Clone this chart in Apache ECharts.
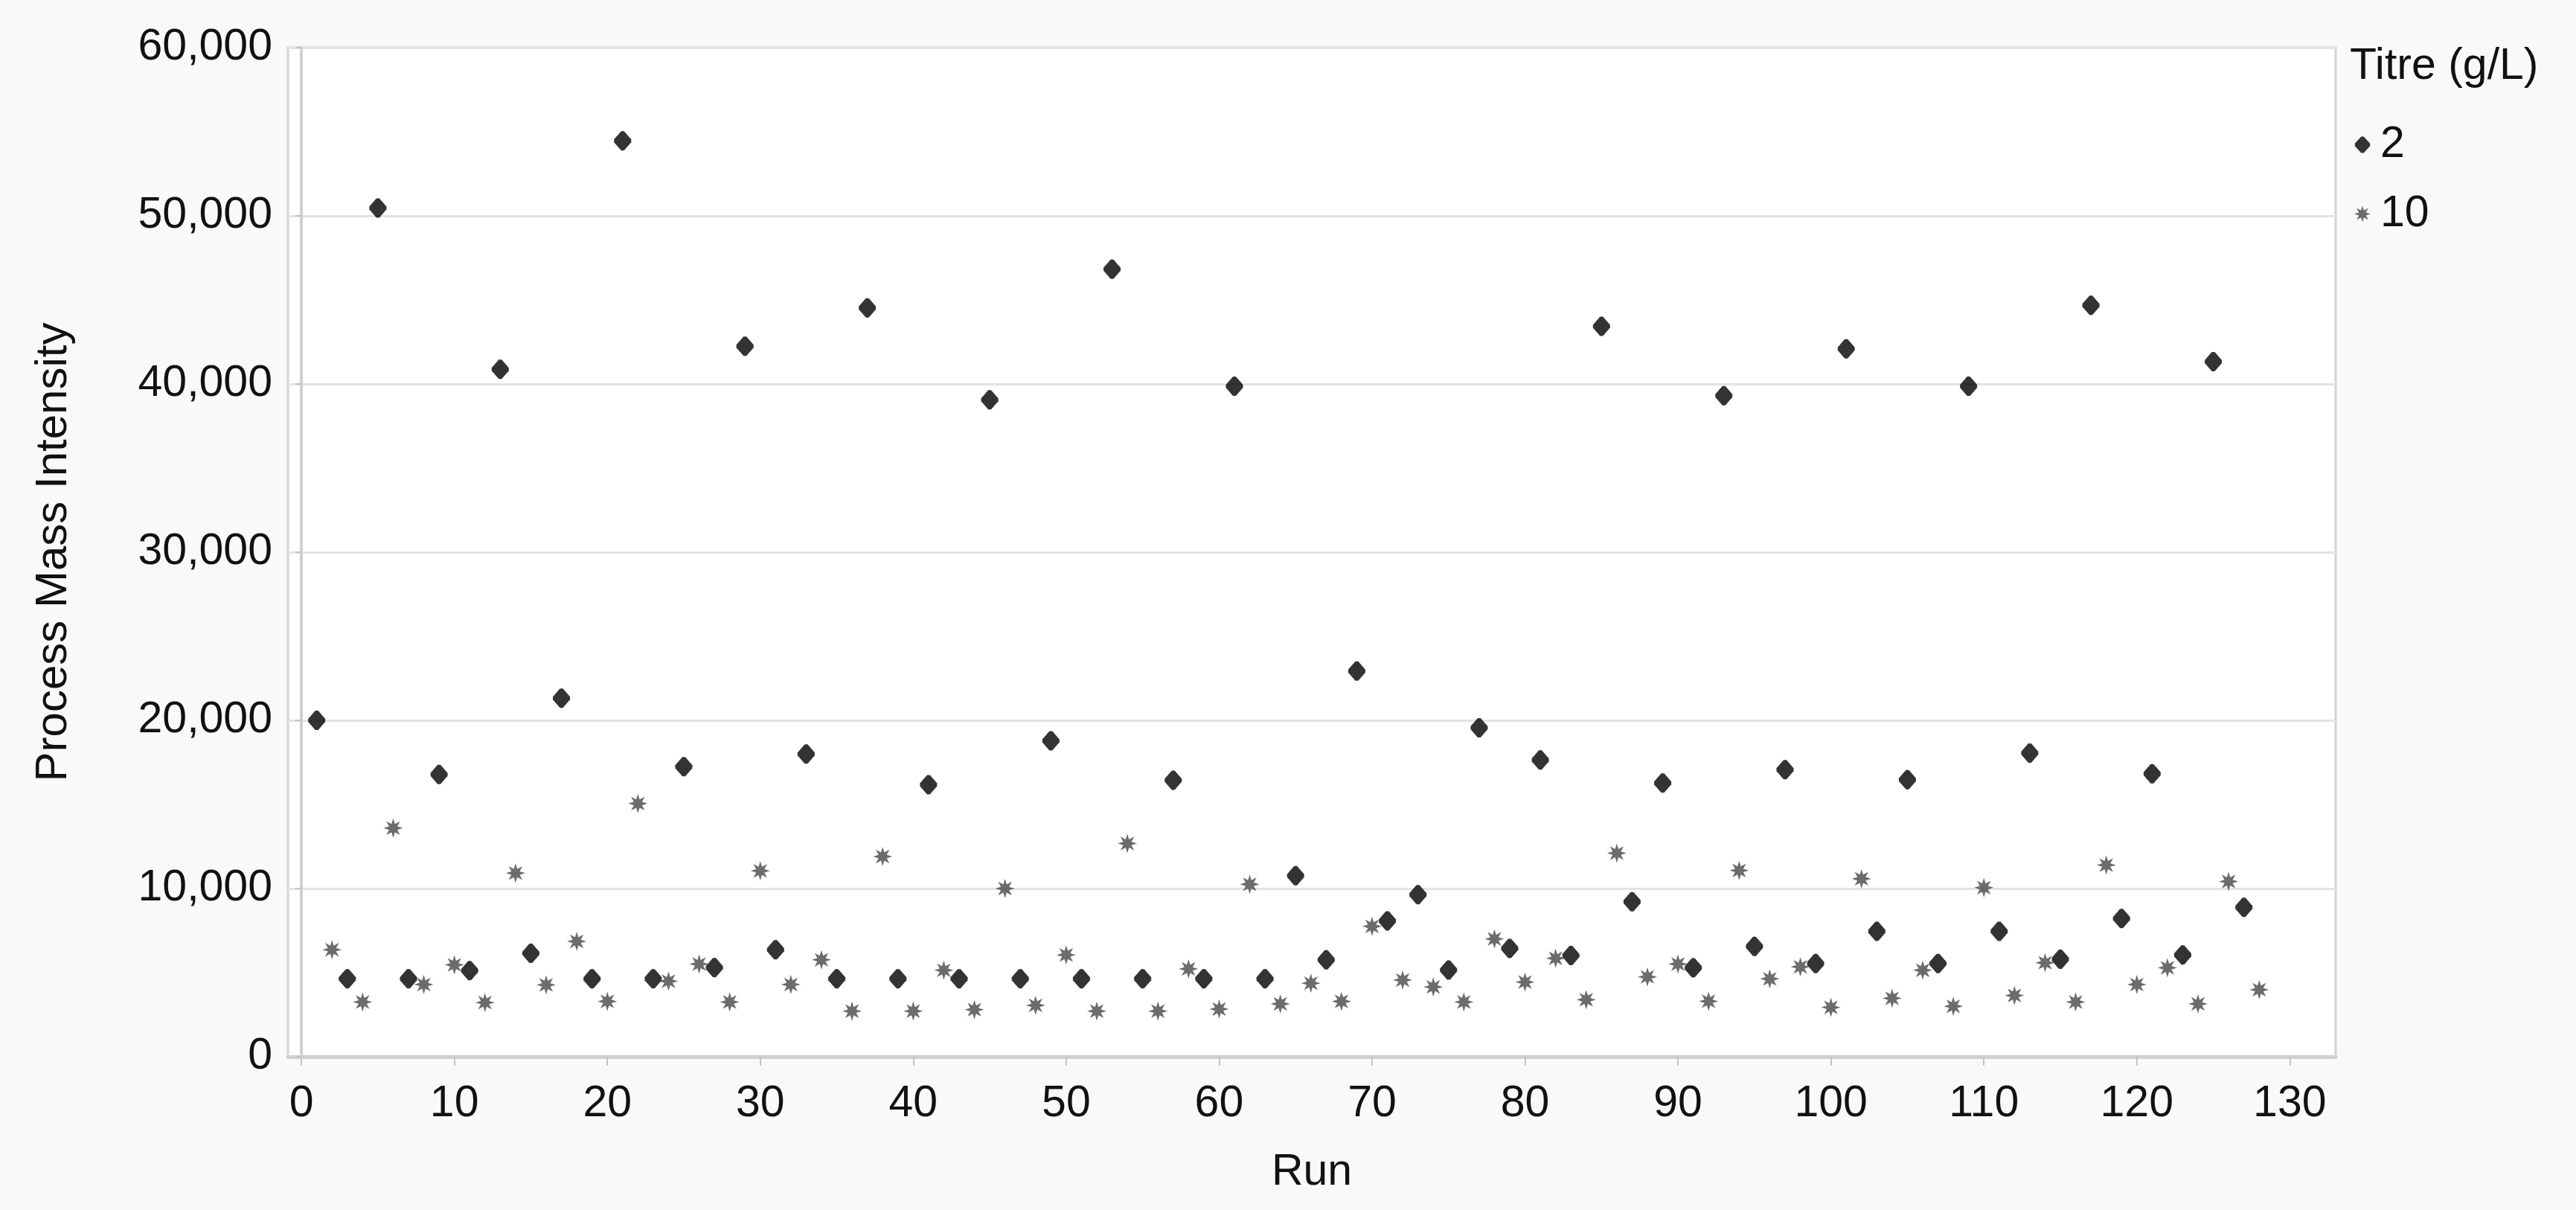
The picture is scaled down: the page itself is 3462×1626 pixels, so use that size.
<!DOCTYPE html>
<html>
<head>
<meta charset="utf-8">
<title>Process Mass Intensity by Run</title>
<script src="https://cdn.jsdelivr.net/npm/echarts@6/dist/echarts.min.js"></script>
<style>
  html, body { margin: 0; padding: 0; background: #f9f9f9; }
  #chart { width: 3462px; height: 1626px; }
</style>
</head>
<body>
<div id="chart"></div>
<script>
// Titre 2 g/L runs (odd run numbers) and their PMI
const runsTitre2 = [1, 3, 5, 7, 9, 11, 13, 15, 17, 19, 21, 23, 25, 27, 29, 31,
  33, 35, 37, 39, 41, 43, 45, 47, 49, 51, 53, 55, 57, 59, 61, 63,
  65, 67, 69, 71, 73, 75, 77, 79, 81, 83, 85, 87, 89, 91, 93, 95,
  97, 99, 101, 103, 105, 107, 109, 111, 113, 115, 117, 119, 121, 123, 125, 127]
const pmiTitre2 = [20000, 4630, 50460, 4630, 16780, 5120, 40870, 6150, 21320, 4630, 54460, 4630, 17250, 5300, 42250, 6360,
  18000, 4630, 44520, 4630, 16170, 4630, 39060, 4630, 18780, 4630, 46830, 4630, 16440, 4630, 39870, 4630,
  10760, 5760, 22930, 8080, 9630, 5150, 19560, 6440, 17640, 6020, 43430, 9220, 16270, 5290, 39300, 6560,
  17070, 5540, 42090, 7460, 16470, 5540, 39870, 7460, 18050, 5800, 44680, 8220, 16830, 6050, 41330, 8880]

// Titre 10 g/L runs (even run numbers) and their PMI
const runsTitre10 = [2, 4, 6, 8, 10, 12, 14, 16, 18, 20, 22, 24, 26, 28, 30, 32,
  34, 36, 38, 40, 42, 44, 46, 48, 50, 52, 54, 56, 58, 60, 62, 64,
  66, 68, 70, 72, 74, 76, 78, 80, 82, 84, 86, 88, 90, 92, 94, 96,
  98, 100, 102, 104, 106, 108, 110, 112, 114, 116, 118, 120, 122, 124, 126, 128]
const pmiTitre10 = [6360, 3250, 13590, 4290, 5460, 3220, 10920, 4270, 6860, 3290, 15050, 4490, 5510, 3250, 11050, 4290,
  5760, 2710, 11900, 2710, 5140, 2800, 10000, 3050, 6050, 2710, 12680, 2710, 5220, 2830, 10250, 3140,
  4370, 3290, 7750, 4560, 4150, 3250, 7000, 4440, 5850, 3390, 12100, 4750, 5510, 3300, 11070, 4630,
  5340, 2930, 10580, 3470, 5140, 3000, 10050, 3640, 5590, 3250, 11390, 4290, 5290, 3140, 10420, 3980]

const runTicks = [0, 10, 20, 30, 40, 50, 60, 70, 80, 90, 100, 110, 120, 130]

const FONT = '"Liberation Sans", Arial, sans-serif'
// blunt diamond for 2 g/L, 8-point star for 10 g/L
const DIAMOND = 'path://M10 0L14 0L24 11L24 15L14 26L10 26L0 15L0 11Z'
const STAR = 'path://M12 0L14.1 6.9L20.49 3.51L17.1 9.9L24 12L17.1 14.1L20.49 20.49L14.1 17.1L12 24L9.9 17.1L3.51 20.49L6.9 14.1L0 12L6.9 9.9L3.51 3.51L9.9 6.9Z'

function pairs(xs, ys) {
  const out = []
  for (var i = 0; i < xs.length; i++) {
    out.push([xs[i], ys[i]])
  }
  return out
}

const chart = echarts.init(document.getElementById('chart'))
chart.setOption({
  animation: false,
  backgroundColor: '#f9f9f9',
  title: {
    text: 'Titre (g/L)',
    left: 3153,
    top: 55,
    textStyle: { fontFamily: FONT, fontSize: 59, fontWeight: 'normal', color: '#111' }
  },
  legend: {
    orient: 'vertical',
    left: 3159,
    top: 160,
    itemWidth: 22,
    itemHeight: 22,
    itemGap: 34,
    data: ['2', '10'],
    textStyle: {
      fontFamily: FONT,
      fontSize: 59,
      lineHeight: 59,
      color: '#111',
      padding: [0, 0, 0, 8]
    }
  },
  grid: {
    left: 387,
    right: 323,
    top: 64,
    bottom: 206,
    show: true,
    backgroundColor: '#ffffff',
    borderColor: '#d4d4d4',
    borderWidth: 3
  },
  xAxis: {
    type: 'value',
    min: -0.88,
    max: 133,
    name: 'Run',
    nameLocation: 'middle',
    nameGap: 126,
    nameTextStyle: { fontFamily: FONT, fontSize: 59, color: '#111' },
    axisLine: { show: true, lineStyle: { color: '#d0d0d0', width: 5 } },
    axisTick: { show: true, customValues: runTicks, length: 12, lineStyle: { color: '#c4c4c4', width: 2 } },
    axisLabel: {
      customValues: runTicks,
      margin: 34,
      fontFamily: FONT,
      fontSize: 59,
      color: '#111'
    },
    splitLine: { show: false }
  },
  yAxis: {
    type: 'value',
    min: 0,
    max: 60000,
    interval: 10000,
    name: 'Process Mass Intensity',
    nameLocation: 'middle',
    nameGap: 285,
    nameTextStyle: { fontFamily: FONT, fontSize: 60, color: '#111' },
    axisLine: { show: true, lineStyle: { color: '#d0d0d0', width: 4 } },
    axisTick: { show: true, length: 8, lineStyle: { color: '#c4c4c4', width: 2 } },
    axisLabel: {
      margin: 21,
      fontFamily: FONT,
      fontSize: 59,
      color: '#111',
      formatter: function (value) {
        return value.toLocaleString('en-US')
      }
    },
    splitLine: { show: true, lineStyle: { color: '#e3e3e3', width: 3 } }
  },
  series: [
    {
      name: '2',
      type: 'scatter',
      symbol: DIAMOND,
      symbolSize: [23, 26],
      itemStyle: { color: '#000000' },
      data: pairs(runsTitre2, pmiTitre2)
    },
    {
      name: '10',
      type: 'scatter',
      symbol: STAR,
      symbolSize: 26,
      itemStyle: { color: '#474747' },
      data: pairs(runsTitre10, pmiTitre10)
    }
  ]
})
</script>
</body>
</html>
